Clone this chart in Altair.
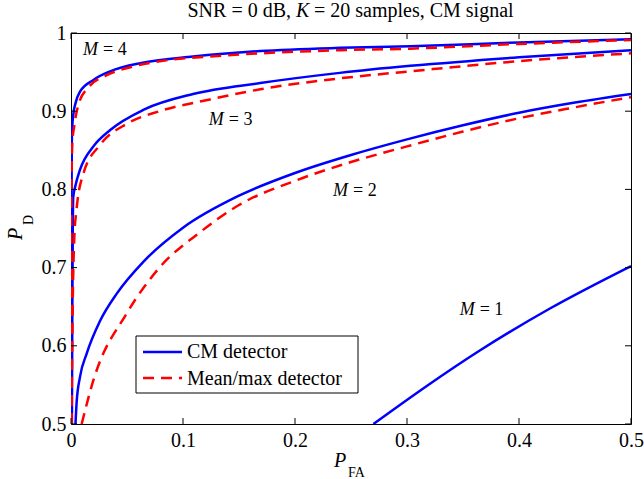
import altair as alt
import pandas as pd

# ---------------- data ----------------
detectors = ["CM detector", "Mean/max detector"]

cm_m4_x = [0.0003, 0.0005, 0.0008, 0.002, 0.004, 0.008, 0.02, 0.035, 0.064, 0.109, 0.169, 0.24, 0.303, 0.4, 0.5]
cm_m4_y = [0.5, 0.80, 0.87, 0.895, 0.91, 0.925, 0.940, 0.951, 0.962, 0.970, 0.977, 0.981, 0.983, 0.988, 0.992]
mm_m4_x = [0.0001, 0.0004, 0.0012, 0.0028, 0.007, 0.016, 0.032, 0.055, 0.085, 0.124, 0.169, 0.24, 0.303, 0.4, 0.5]
mm_m4_y = [0.5, 0.80, 0.86, 0.88, 0.91, 0.931, 0.946, 0.957, 0.965, 0.970, 0.974, 0.978, 0.980, 0.986, 0.991]

cm_m3_x = [0.0008, 0.0012, 0.0016, 0.002, 0.004, 0.008, 0.02, 0.035, 0.065, 0.109, 0.169, 0.24, 0.303, 0.4, 0.5]
cm_m3_y = [0.5, 0.65, 0.75, 0.79, 0.805, 0.825, 0.855, 0.876, 0.902, 0.922, 0.936, 0.949, 0.958, 0.969, 0.978]
mm_m3_x = [0.0004, 0.0015, 0.003, 0.005, 0.011, 0.026, 0.05, 0.079, 0.124, 0.169, 0.24, 0.303, 0.4, 0.5]
mm_m3_y = [0.5, 0.65, 0.74, 0.775, 0.82, 0.857, 0.884, 0.900, 0.915, 0.928, 0.942, 0.951, 0.964, 0.974]

cm_m2_x = [0.004, 0.005, 0.008, 0.014, 0.026, 0.041, 0.065, 0.1, 0.15, 0.2, 0.25, 0.3, 0.35, 0.4, 0.45, 0.5]
cm_m2_y = [0.5, 0.527, 0.56, 0.59, 0.632, 0.667, 0.708, 0.751, 0.792, 0.821, 0.844, 0.864, 0.882, 0.898, 0.911, 0.922]
mm_m2_x = [0.0095, 0.02, 0.05, 0.079, 0.115, 0.15, 0.2, 0.25, 0.3, 0.35, 0.4, 0.45, 0.5]
mm_m2_y = [0.5, 0.556, 0.642, 0.700, 0.745, 0.780, 0.811, 0.835, 0.855, 0.874, 0.891, 0.905, 0.918]

cm_m1_x = [0.27, 0.318, 0.365, 0.428, 0.5]
cm_m1_y = [0.5, 0.549, 0.594, 0.648, 0.702]

ann_x = [0.0107, 0.123, 0.234, 0.347]
ann_y = [0.978, 0.889, 0.798, 0.646]
ann_rest = ["= 4", "= 3", "= 2", "= 1"]

x_ticks = [0, 0.1, 0.2, 0.3, 0.4, 0.5]
y_ticks = [0.5, 0.6, 0.7, 0.8, 0.9, 1.0]

rows = []
for det, curve, xs, ys in [
    (detectors[0], "M4", cm_m4_x, cm_m4_y),
    (detectors[0], "M3", cm_m3_x, cm_m3_y),
    (detectors[0], "M2", cm_m2_x, cm_m2_y),
    (detectors[0], "M1", cm_m1_x, cm_m1_y),
    (detectors[1], "M4", mm_m4_x, mm_m4_y),
    (detectors[1], "M3", mm_m3_x, mm_m3_y),
    (detectors[1], "M2", mm_m2_x, mm_m2_y),
]:
    for x, y in zip(xs, ys):
        rows.append({"detector": det, "curve": curve, "pfa": x, "pd": y})
df = pd.DataFrame(rows)

FONT = "Liberation Serif"
W, H = 560, 391
BLUE, RED = "#0000ff", "#ff0000"
DASH = [11, 7]

xscale = alt.Scale(domain=[0, 0.5], nice=False, zero=False)
yscale = alt.Scale(domain=[0.5, 1], nice=False, zero=False)

xaxis = alt.Axis(values=x_ticks, format="~g", ticks=False, domain=False, grid=False, title=None,
                 labelFont=FONT, labelFontSize=20, labelColor="black", labelPadding=6,
                 labelFlush=False, labelOverlap=False)
yaxis = alt.Axis(values=y_ticks, format="~g", ticks=False, domain=False, grid=False, title=None,
                 labelFont=FONT, labelFontSize=20, labelColor="black", labelPadding=5,
                 labelFlush=False, labelOverlap=False)


def X(field):
    return alt.X(field, scale=xscale, axis=xaxis)


def Y(field):
    return alt.Y(field, scale=yscale, axis=yaxis)


base = alt.Chart(df)
blue = base.transform_filter(alt.datum.detector == detectors[0]).mark_line(
    color=BLUE, strokeWidth=2.5, clip=True, interpolate="monotone"
).encode(x=X("pfa:Q"), y=Y("pd:Q"), detail="curve:N")
red = base.transform_filter(alt.datum.detector == detectors[1]).mark_line(
    color=RED, strokeWidth=2.5, strokeDash=DASH, clip=True, interpolate="monotone"
).encode(x=X("pfa:Q"), y=Y("pd:Q"), detail="curve:N")

# inside ticks (MATLAB style box)
tx = alt.Chart(pd.DataFrame({"t": x_ticks}))
ty = alt.Chart(pd.DataFrame({"t": y_ticks}))
tick_b = tx.mark_rule(color="black", strokeWidth=1).encode(
    x=X("t:Q"), y=alt.value(H), y2=alt.value(H - 6))
tick_t = tx.mark_rule(color="black", strokeWidth=1).encode(
    x=X("t:Q"), y=alt.value(0), y2=alt.value(6))
tick_l = ty.mark_rule(color="black", strokeWidth=1).encode(
    y=Y("t:Q"), x=alt.value(0), x2=alt.value(6))
tick_r = ty.mark_rule(color="black", strokeWidth=1).encode(
    y=Y("t:Q"), x=alt.value(W), x2=alt.value(W - 6))

# curve annotations
ann = alt.Chart(pd.DataFrame({"x": ann_x, "y": ann_y, "rest": ann_rest}))
ann_m = ann.mark_text(text="M", font=FONT, fontSize=18, fontStyle="italic", align="left",
                      baseline="middle", color="black").encode(x=X("x:Q"), y=Y("y:Q"))
ann_r = ann.mark_text(font=FONT, fontSize=18, align="left", baseline="middle", dx=20,
                      color="black").encode(x=X("x:Q"), y=Y("y:Q"), text="rest:N")

one = alt.Chart(pd.DataFrame({"a": [0]}))

# legend (drawn box)
leg_box = one.mark_rect(fill="white", stroke="black", strokeWidth=1).encode(
    x=alt.value(65), x2=alt.value(287), y=alt.value(303), y2=alt.value(360))
leg_l1 = one.mark_rule(color=BLUE, strokeWidth=2.5).encode(
    x=alt.value(72), x2=alt.value(111), y=alt.value(319))
leg_l2 = one.mark_rule(color=RED, strokeWidth=2.5, strokeDash=DASH).encode(
    x=alt.value(72), x2=alt.value(111), y=alt.value(345))
leg_t1 = one.mark_text(text=detectors[0], font=FONT, fontSize=20, align="left",
                       baseline="middle", color="black").encode(x=alt.value(116), y=alt.value(319))
leg_t2 = one.mark_text(text=detectors[1], font=FONT, fontSize=20, align="left",
                       baseline="middle", color="black").encode(x=alt.value(116), y=alt.value(346))

# title with italic K
t1 = one.mark_text(text="SNR = 0 dB,", font=FONT, fontSize=20, align="right",
                   baseline="alphabetic", color="black").encode(x=alt.value(220), y=alt.value(-16))
t2 = one.mark_text(text="K", font=FONT, fontSize=20, fontStyle="italic", align="left",
                   baseline="alphabetic", color="black").encode(x=alt.value(225), y=alt.value(-16))
t3 = one.mark_text(text="= 20 samples, CM signal", font=FONT, fontSize=20, align="left",
                   baseline="alphabetic", color="black").encode(x=alt.value(243), y=alt.value(-16))

# axis titles P_FA and P_D
xl1 = one.mark_text(text="P", font=FONT, fontSize=20, fontStyle="italic", align="left",
                    baseline="alphabetic", color="black").encode(x=alt.value(263), y=alt.value(434))
xl2 = one.mark_text(text="FA", font=FONT, fontSize=14, align="left",
                    baseline="alphabetic", color="black").encode(x=alt.value(277), y=alt.value(444))
yl1 = one.mark_text(text="P", font=FONT, fontSize=20, fontStyle="italic", align="left", angle=270,
                    baseline="alphabetic", color="black").encode(x=alt.value(-49), y=alt.value(207))
yl2 = one.mark_text(text="D", font=FONT, fontSize=14, align="left", angle=270,
                    baseline="alphabetic", color="black").encode(x=alt.value(-38), y=alt.value(192))

chart = alt.layer(
    blue, red, tick_b, tick_t, tick_l, tick_r, ann_m, ann_r,
    leg_box, leg_l1, leg_l2, leg_t1, leg_t2,
    t1, t2, t3, xl1, xl2, yl1, yl2,
).properties(
    width=W, height=H,
    autosize=alt.AutoSizeParams(type="none"),
    padding={"left": 71, "top": 33, "right": 13, "bottom": 55},
    background="white",
).configure_view(stroke="black", strokeWidth=1)

chart.save("out.html", embed_options={"renderer": "svg", "actions": False})
